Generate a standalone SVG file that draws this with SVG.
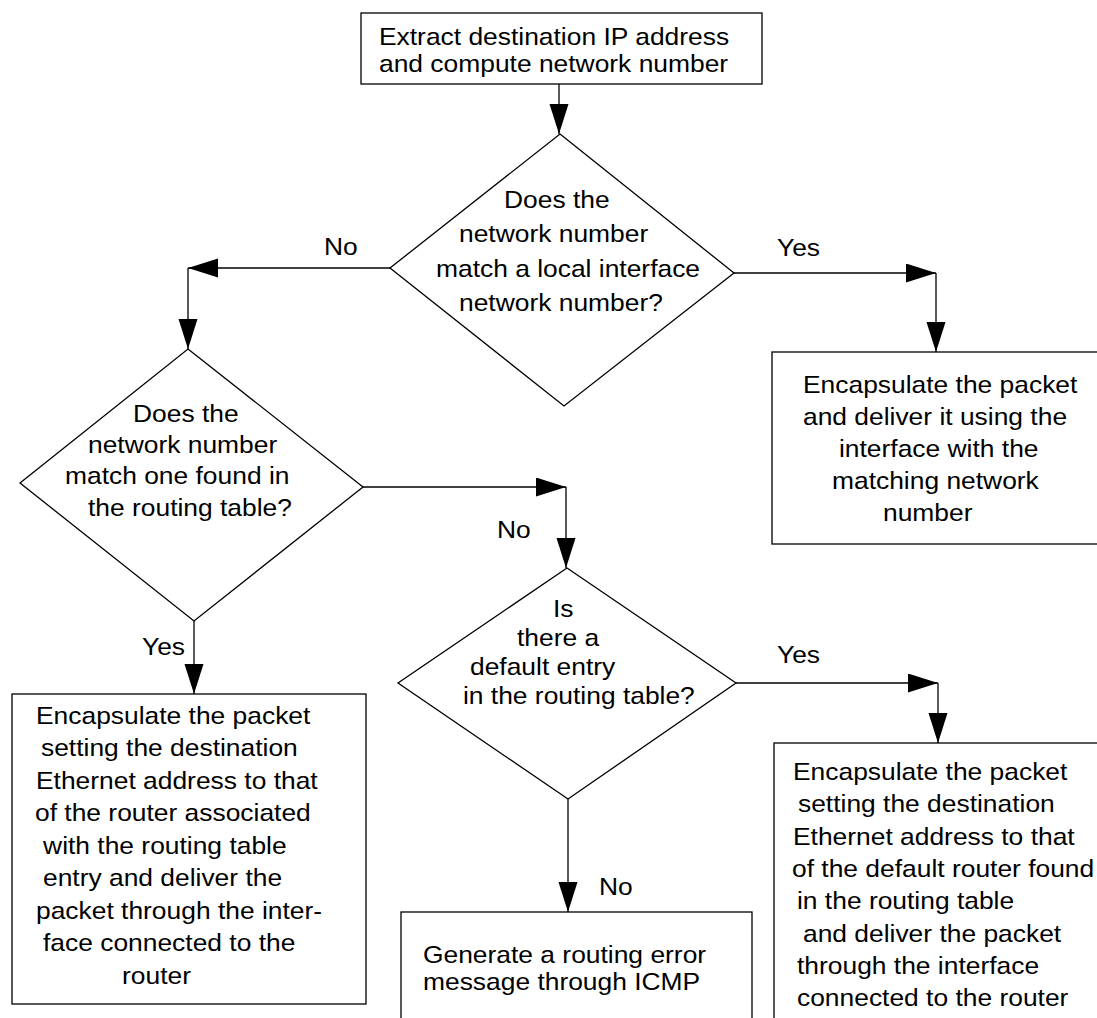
<svg xmlns="http://www.w3.org/2000/svg" width="1097" height="1018" viewBox="0 0 1097 1018">
<style>
  .bg { fill: #ffffff; }
  .shape { fill: #ffffff; stroke: #000000; stroke-width: 1.3; }
  .conn { fill: none; stroke: #000000; stroke-width: 1.3; marker-end: url(#arrow); }
  text { font-family: "Liberation Sans", Arial, Helvetica, sans-serif; font-size: 24px; fill: #000000;
         transform-box: fill-box; transform-origin: 0 0; transform: scaleX(1.1); }
</style>
<defs>
  <marker id="arrow" markerUnits="userSpaceOnUse" markerWidth="31" markerHeight="20" refX="30" refY="9.5" orient="auto">
    <path d="M0,0 L30,9.5 L0,19 Z" fill="#000000"/>
  </marker>
</defs>
<rect class="bg" x="0" y="0" width="1097" height="1018"/>

<g id="connectors">
  <path class="conn" d="M559,84 L559,134"/>
  <path class="conn" d="M390,268 L188,268"/>
  <path class="conn" d="M188,268 L188,349"/>
  <path class="conn" d="M734,273 L936,273"/>
  <path class="conn" d="M936,273 L936,352"/>
  <path class="conn" d="M363,487 L566,487"/>
  <path class="conn" d="M566,487 L566,568"/>
  <path class="conn" d="M194,621 L194,694"/>
  <path class="conn" d="M736,683 L938,683"/>
  <path class="conn" d="M938,683 L938,743"/>
  <path class="conn" d="M568,799 L568,912"/>
  <g id="labels">
    <text x="324" y="255">No</text>
    <text x="777" y="256">Yes</text>
    <text x="497" y="538">No</text>
    <text x="142" y="655">Yes</text>
    <text x="777" y="663">Yes</text>
    <text x="599" y="895">No</text>
  </g>
</g>

<g id="start">
  <rect class="shape" x="361" y="13" width="401" height="71"/>
  <text x="379" y="45">Extract destination IP address</text>
  <text x="379" y="72">and compute network number</text>
</g>

<g id="decision-local">
  <polygon class="shape" points="560,134 734,273 564,406 390,268"/>
  <text x="504" y="208">Does the</text>
  <text x="459" y="242">network number</text>
  <text x="436" y="277">match a local interface</text>
  <text x="459" y="311">network number?</text>
</g>

<g id="deliver-local">
  <rect class="shape" x="772" y="352" width="340" height="192"/>
  <text x="803" y="393">Encapsulate the packet</text>
  <text x="803" y="425">and deliver it using the</text>
  <text x="839" y="457">interface with the</text>
  <text x="832" y="489">matching network</text>
  <text x="883" y="521">number</text>
</g>

<g id="decision-table">
  <polygon class="shape" points="188,349 363,487 194,621 20,483"/>
  <text x="133" y="422">Does the</text>
  <text x="88" y="453">network number</text>
  <text x="65" y="484">match one found in</text>
  <text x="88" y="516">the routing table?</text>
</g>

<g id="deliver-router">
  <rect class="shape" x="12" y="694" width="354" height="310"/>
  <text x="36" y="724">Encapsulate the packet</text>
  <text x="41" y="756">setting the destination</text>
  <text x="36" y="789">Ethernet address to that</text>
  <text x="35" y="821">of the router associated</text>
  <text x="43" y="854">with the routing table</text>
  <text x="43" y="886">entry and deliver the</text>
  <text x="36" y="919">packet through the inter-</text>
  <text x="43" y="951">face connected to the</text>
  <text x="122" y="984">router</text>
</g>

<g id="decision-default">
  <polygon class="shape" points="567,568 736,683 568,799 398,683"/>
  <text x="553" y="617">Is</text>
  <text x="517" y="646">there a</text>
  <text x="470" y="675">default entry</text>
  <text x="463" y="704">in the routing table?</text>
</g>

<g id="icmp-error">
  <rect class="shape" x="401" y="912" width="351" height="120"/>
  <text x="423" y="963">Generate a routing error</text>
  <text x="423" y="990">message through ICMP</text>
</g>

<g id="deliver-default">
  <rect class="shape" x="774" y="743" width="340" height="290"/>
  <text x="793" y="780">Encapsulate the packet</text>
  <text x="798" y="812">setting the destination</text>
  <text x="793" y="845">Ethernet address to that</text>
  <text x="792" y="877">of the default router found</text>
  <text x="797" y="909">in the routing table</text>
  <text x="803" y="942">and deliver the packet</text>
  <text x="797" y="974">through the interface</text>
  <text x="797" y="1006">connected to the router</text>
</g>
</svg>
